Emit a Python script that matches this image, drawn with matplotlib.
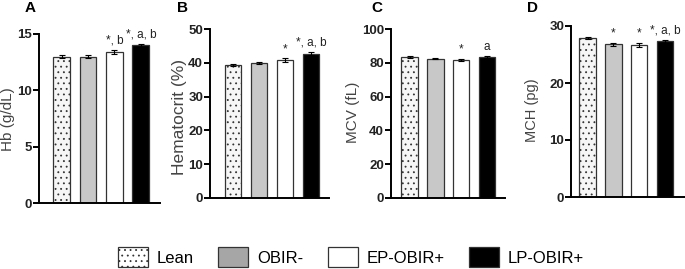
import matplotlib.pyplot as plt
from matplotlib.patches import Patch

plt.rcParams['font.family'] = ['Liberation Sans', 'DejaVu Sans']

groups = ['Lean', 'OBIR-', 'EP-OBIR+', 'LP-OBIR+']
panel_letters = ['A', 'B', 'C', 'D']
ylabels = ['Hb (g/dL)', 'Hematocrit (%)', 'MCV (fL)', 'MCH (pg)']

hb = [13.0, 13.0, 13.4, 14.0]
hb_err = [0.12, 0.15, 0.2, 0.15]
hct = [39.3, 39.8, 40.8, 42.7]
hct_err = [0.3, 0.3, 0.5, 0.4]
mcv = [83.5, 82.5, 81.5, 83.5]
mcv_err = [0.4, 0.4, 0.6, 0.4]
mch = [27.9, 26.8, 26.7, 27.3]
mch_err = [0.1, 0.3, 0.3, 0.25]

means = [hb, hct, mcv, mch]
errs = [hb_err, hct_err, mcv_err, mch_err]
ymax = [15, 50, 100, 30]
ysteps = [5, 10, 20, 10]
sig = [['', '', '*, b', '*, a, b'],
       ['', '', '*', '*, a, b'],
       ['', '', '*', 'a'],
       ['', '*', '*', '*, a, b']]

faces = ['#f6f6f6', '#c8c8c8', 'white', 'black']
legend_faces = ['white', '#a6a6a6', 'white', 'black']
hatches = ['...', None, None, None]

# axes boxes in pixels: left, right, bottom, top ; plus xlim
W, H = 685, 269
boxes = [(39, 160, 203, 34), (210, 329, 198, 29), (391, 505, 198, 29), (571, 685, 197, 26)]
xlims = [(-0.85, 3.72), (-0.88, 3.69), (-0.72, 3.70), (-0.64, 3.78)]
letter_x = [30, 183, 377, 532]
# y label centres (px) and sizes; each panel was scaled a bit differently
ylab_pos = [(8, 119), (179, 117), (353, 112), (532, 110)]
ylab_size = [11, 12.5, 11, 10.5]

fig = plt.figure(figsize=(W / 100, H / 100), dpi=100)
plt.rcParams['hatch.color'] = '#777777'
plt.rcParams['hatch.linewidth'] = 0.6

x = list(range(4))
for i in range(4):
    l, r, b, t = boxes[i]
    ax = fig.add_axes([l / W, 1 - b / H, (r - l) / W, (b - t) / H])
    bars = ax.bar(x, means[i], width=0.64, color=faces, edgecolor='#333333', linewidth=0.9,
                  yerr=errs[i], capsize=2, error_kw={'elinewidth': 0.8, 'capthick': 0.8})
    for bar, h in zip(bars, hatches):
        if h:
            bar.set_hatch(h)
    for j in range(4):
        if sig[i][j]:
            ax.text(x[j], means[i][j] + errs[i][j] + ymax[i] * 0.02, sig[i][j],
                    ha='center', va='bottom', fontsize=8.5, color='#222222')
    ax.set_ylim(0, ymax[i])
    ax.set_xlim(*xlims[i])
    ax.set_yticks(range(0, ymax[i] + 1, ysteps[i]))
    ax.tick_params(axis='y', labelsize=9.5, width=1.4, length=4, pad=1, labelcolor='#222222')
    for lab in ax.get_yticklabels():
        lab.set_fontweight('bold')
    ax.set_xticks([])
    ax.spines['top'].set_visible(False)
    ax.spines['right'].set_visible(False)
    ax.spines['left'].set_linewidth(1.4)
    ax.spines['bottom'].set_linewidth(1.4)
    fig.text(ylab_pos[i][0] / W, 1 - ylab_pos[i][1] / H, ylabels[i], rotation=90,
             fontsize=ylab_size[i], color='#444444', ha='center', va='center')
    fig.text(letter_x[i] / W, 1 - 8 / H, panel_letters[i], fontsize=11, fontweight='bold',
             ha='center', va='center')

handles = []
for k in range(4):
    handles.append(Patch(facecolor=legend_faces[k], edgecolor='#333333', linewidth=0.9,
                         hatch=hatches[k] if hatches[k] else None))
fig.legend(handles, groups, loc='center', bbox_to_anchor=(351 / W, 1 - 257 / H), ncol=4,
           frameon=False, fontsize=12, handlelength=1.8, handleheight=1.4,
           handletextpad=0.5, columnspacing=1.5)

fig.savefig('out.png', dpi=100)
